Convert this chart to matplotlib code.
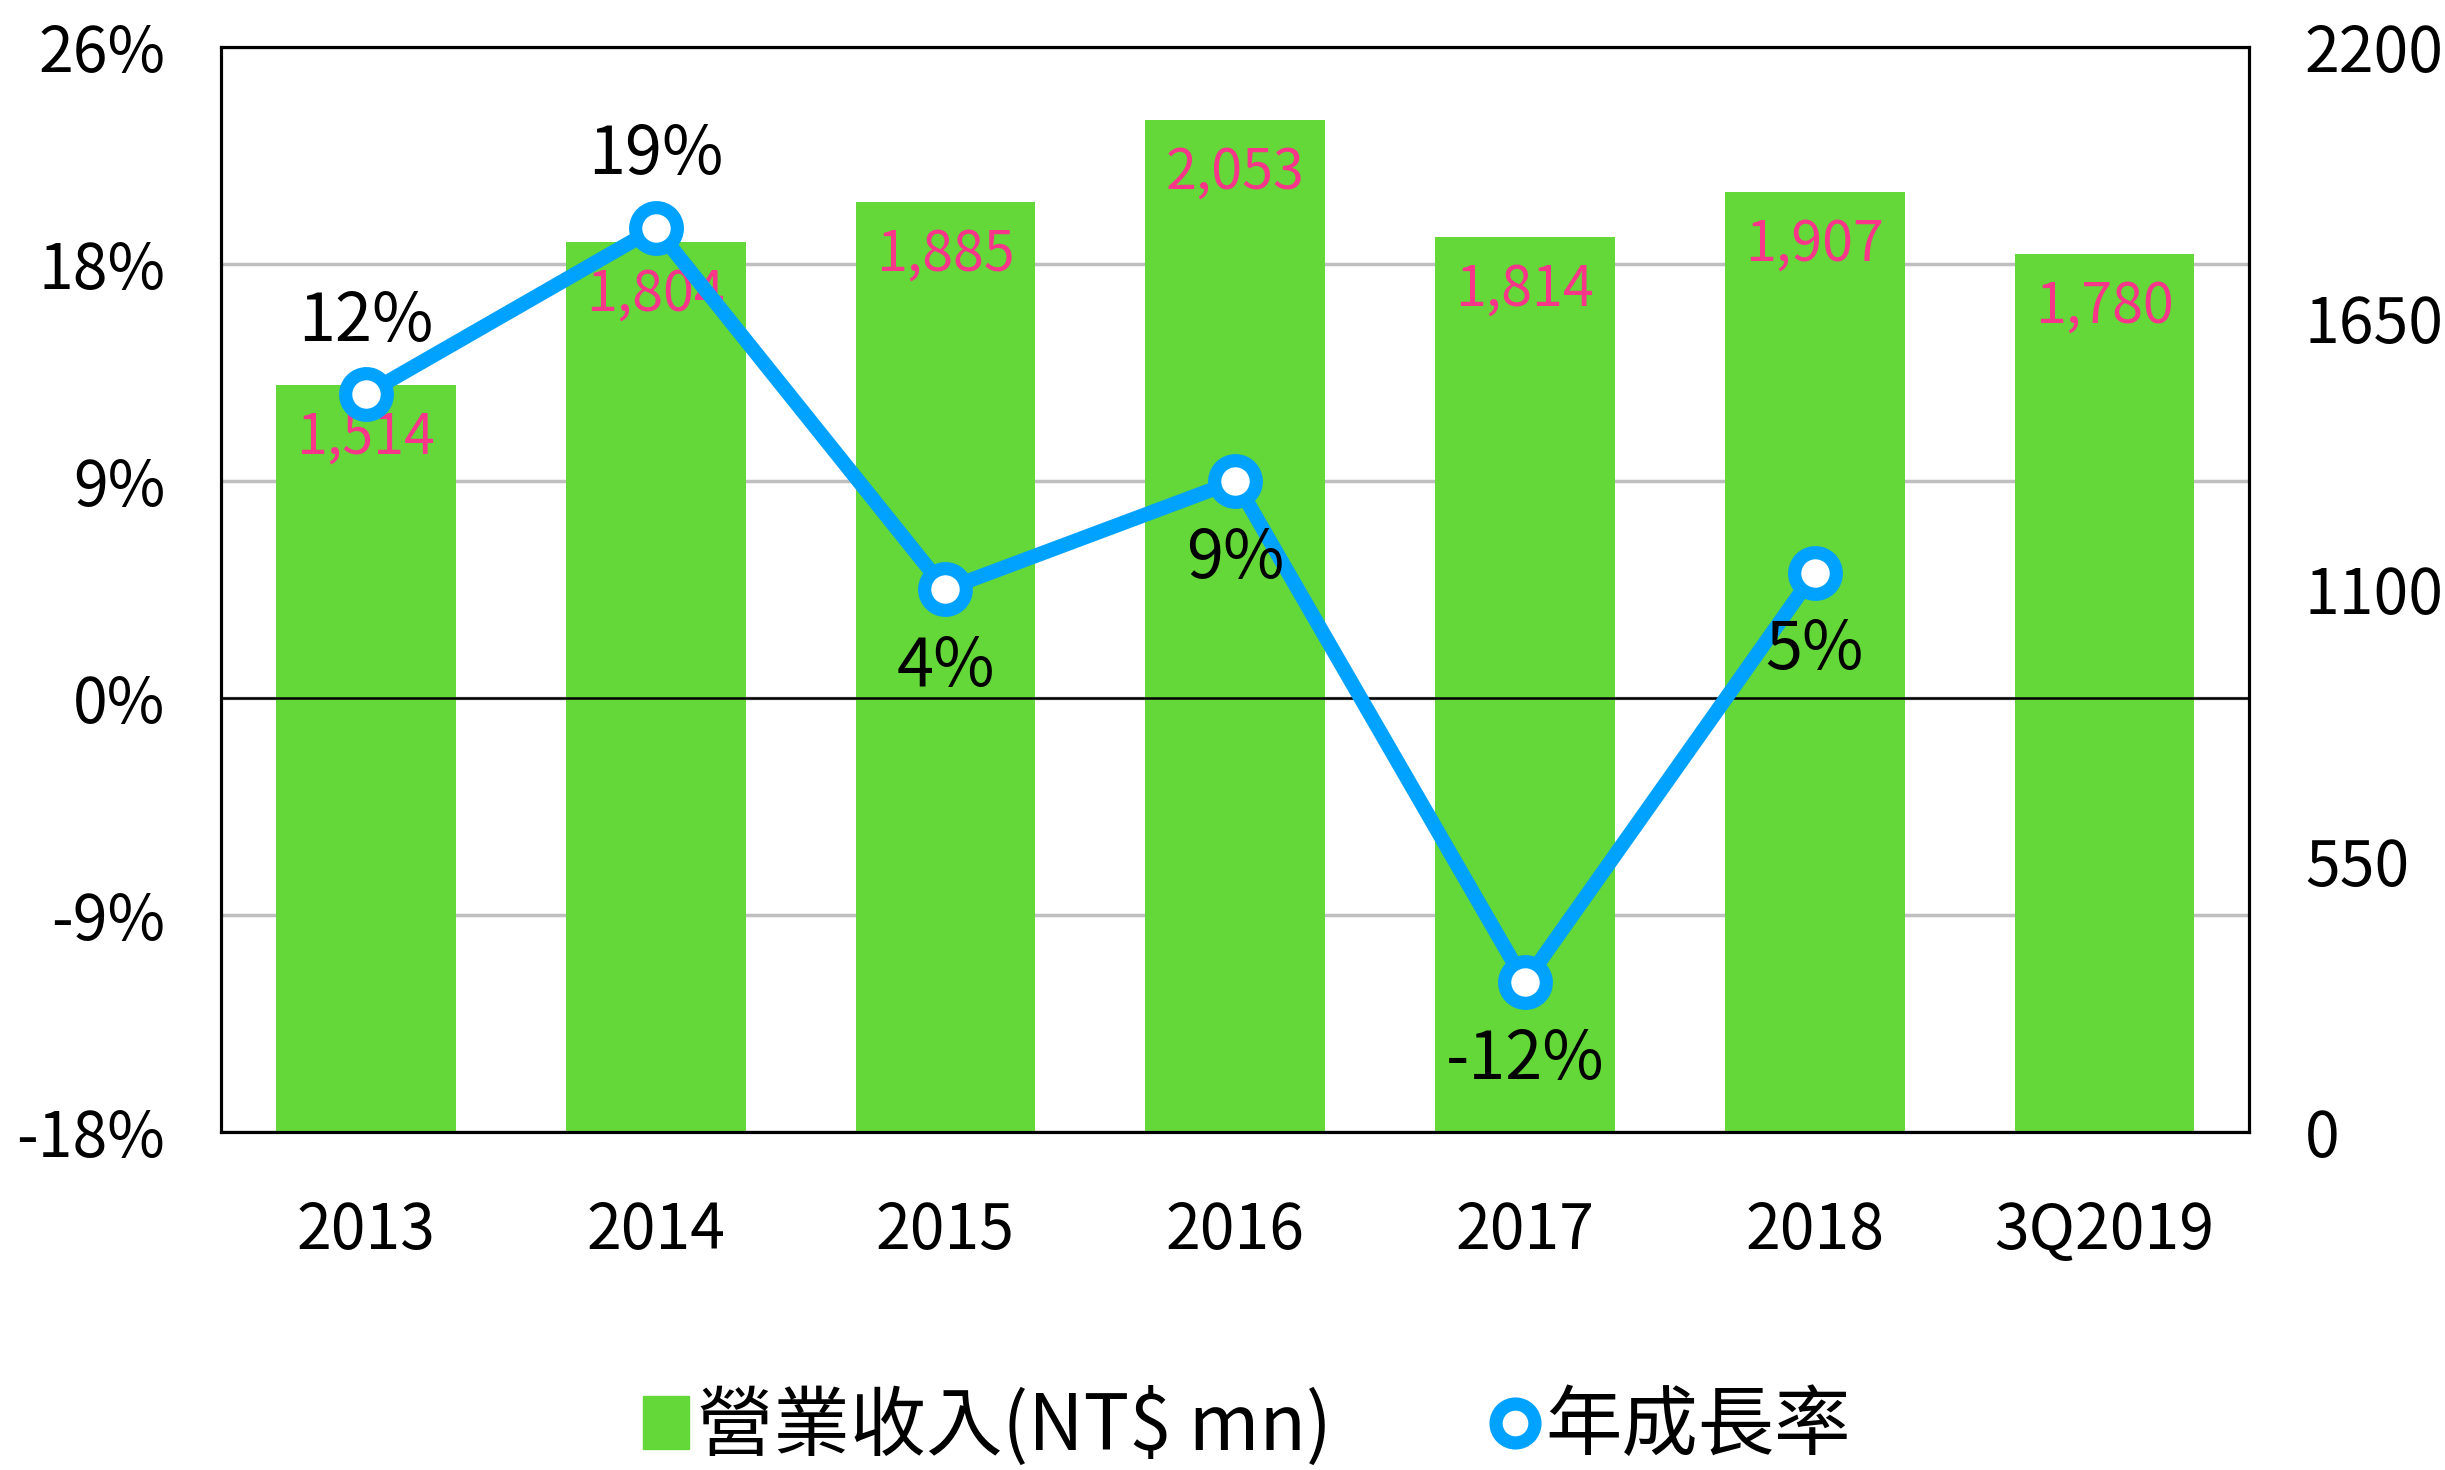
import matplotlib
matplotlib.use("Agg")
import matplotlib.pyplot as plt
from matplotlib.lines import Line2D
from matplotlib.patches import Patch

plt.rcParams['font.family'] = ['Noto Sans CJK TC', 'DejaVu Sans']

# data
years = ['2013', '2014', '2015', '2016', '2017', '2018', '3Q2019']
revenue = [1514, 1804, 1885, 2053, 1814, 1907, 1780]
growth = [12.6, 19.5, 4.5, 9.0, -11.8, 5.2]
growth_labels = ['12%', '19%', '4%', '9%', '-12%', '5%']
left_ticks = [-18, -9, 0, 9, 18, 27]
left_ticklabels = ['-18%', '-9%', '0%', '9%', '18%', '26%']
right_ticks = [0, 550, 1100, 1650, 2200]

bar_c = '#63D838'
line_c = '#00A2FF'
pink = '#F7368A'

fig = plt.figure(figsize=(24.45, 14.7), dpi=100)
ax = fig.add_axes([0.0904, 0.230, 0.8296, 0.738])
ax2 = ax.twinx()   # bars, right scale
ax3 = ax.twinx()   # line on top, left scale

x = list(range(len(years)))

# left axis + grid
ax.set_ylim(-18, 27)
ax.set_yticks(left_ticks)
ax.set_yticklabels(left_ticklabels)
ax.grid(axis='y', color='#BFBFBF', linewidth=2.5)
ax.set_axisbelow(True)
ax.tick_params(axis='y', length=0, labelsize=45, pad=40)
ax.set_xlim(-0.5, 6.5)
ax.set_xticks(x)
ax.set_xticklabels(years)
ax.tick_params(axis='x', length=0, labelsize=45, pad=48)

# bars
ax2.bar(x, revenue, width=0.62, color=bar_c, zorder=2)
ax2.set_ylim(0, 2200)
ax2.set_yticks(right_ticks)
ax2.tick_params(axis='y', length=0, labelsize=45, pad=40)
for xi, v in zip(x, revenue):
    ax2.annotate(f'{v:,}', (xi, v), xytext=(0, -38), textcoords='offset points',
                 ha='center', va='center', color=pink, fontsize=40)

# growth line
ax3.set_ylim(-18, 27)
ax3.set_yticks([])
ax3.axhline(0, color='black', linewidth=1.8)
gx = x[:len(growth)]
ax3.plot(gx, growth, color=line_c, linewidth=10.5, marker='o', markersize=30,
         markerfacecolor='white', markeredgecolor=line_c, markeredgewidth=9.5,
         solid_joinstyle='miter')
for i, (xi, g, lab) in enumerate(zip(gx, growth, growth_labels)):
    dy = 52 if i < 2 else -56
    ax3.annotate(lab, (xi, g), xytext=(0, dy), textcoords='offset points',
                 ha='center', va='center', fontsize=48, color='black')

for a in (ax, ax2, ax3):
    for s in a.spines.values():
        s.set_color('black')
        s.set_linewidth(2.2)

handles = [Patch(color=bar_c),
           Line2D([], [], linestyle='none', marker='o', markersize=28,
                  markerfacecolor='white', markeredgecolor=line_c, markeredgewidth=9.5)]
fig.legend(handles, ['營業收入(NT$ mn)', '年成長率'], loc='lower center',
           bbox_to_anchor=(0.51, -0.045), ncol=2, frameon=False, fontsize=55,
           handlelength=0.6, handletextpad=0.1, columnspacing=2.1)

fig.savefig('out.png', dpi=100)
